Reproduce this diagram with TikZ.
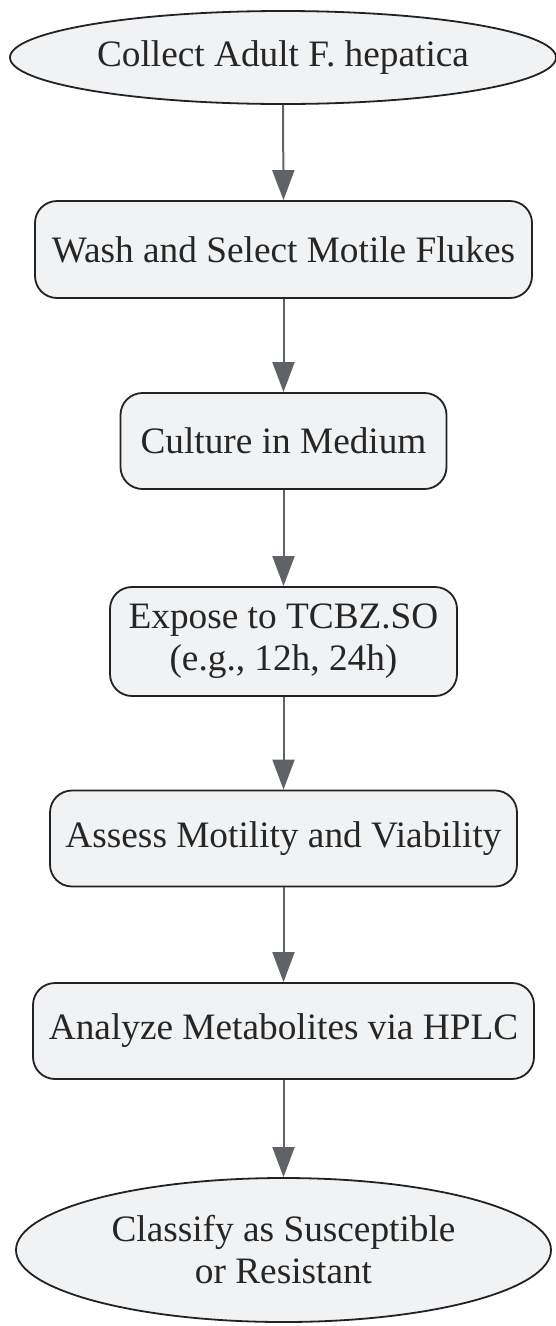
\documentclass[tikz,border=0pt]{standalone}
\usepackage{fontspec}
\setmainfont{Liberation Serif}
\usetikzlibrary{shapes.geometric,arrows.meta}
\definecolor{nodefill}{HTML}{F1F2F4}
\definecolor{nodeborder}{HTML}{222222}
\definecolor{arrowgray}{HTML}{5F6267}
\tikzset{
  base/.style={draw=nodeborder, fill=nodefill, line width=1.8pt, inner sep=0pt, align=center,
    font=\fontsize{37.3}{42}\selectfont, text=black!85},
  stepbox/.style={base, rectangle, rounded corners=22pt},
  term/.style={base, ellipse},
  flow/.style={draw=arrowgray, line width=2pt, -{Triangle[length=30pt,width=22pt]}}
}
\begin{document}
\begin{tikzpicture}[x=1pt,y=-1pt]
\useasboundingbox (0,0) rectangle (556,1326);
\node[term, minimum width=546pt, minimum height=93pt] (n1) at (283,57.5) {Collect Adult F. hepatica};
\node[stepbox, minimum width=497pt, minimum height=97pt] (n2) at (283.5,249.5) {Wash and Select Motile Flukes};
\node[stepbox, minimum width=326pt, minimum height=96pt] (n3) at (283.5,441) {Culture in Medium};
\node[stepbox, minimum width=347pt, minimum height=109pt] (n4) at (283.5,641.5) {Expose to TCBZ.SO\\(e.g., 12h, 24h)};
\node[stepbox, minimum width=467pt, minimum height=96pt] (n5) at (283.5,838.5) {Assess Motility and Viability};
\node[stepbox, minimum width=501pt, minimum height=96pt] (n6) at (283.5,1031) {Analyze Metabolites via HPLC};
\node[term, minimum width=535pt, minimum height=144pt] (n7) at (283.5,1250) {Classify as Susceptible\\or Resistant};
\draw[flow] (n1.south) -- (n2.north);
\draw[flow] (n2.south) -- (n3.north);
\draw[flow] (n3.south) -- (n4.north);
\draw[flow] (n4.south) -- (n5.north);
\draw[flow] (n5.south) -- (n6.north);
\draw[flow] (n6.south) -- (n7.north);
\end{tikzpicture}
\end{document}
